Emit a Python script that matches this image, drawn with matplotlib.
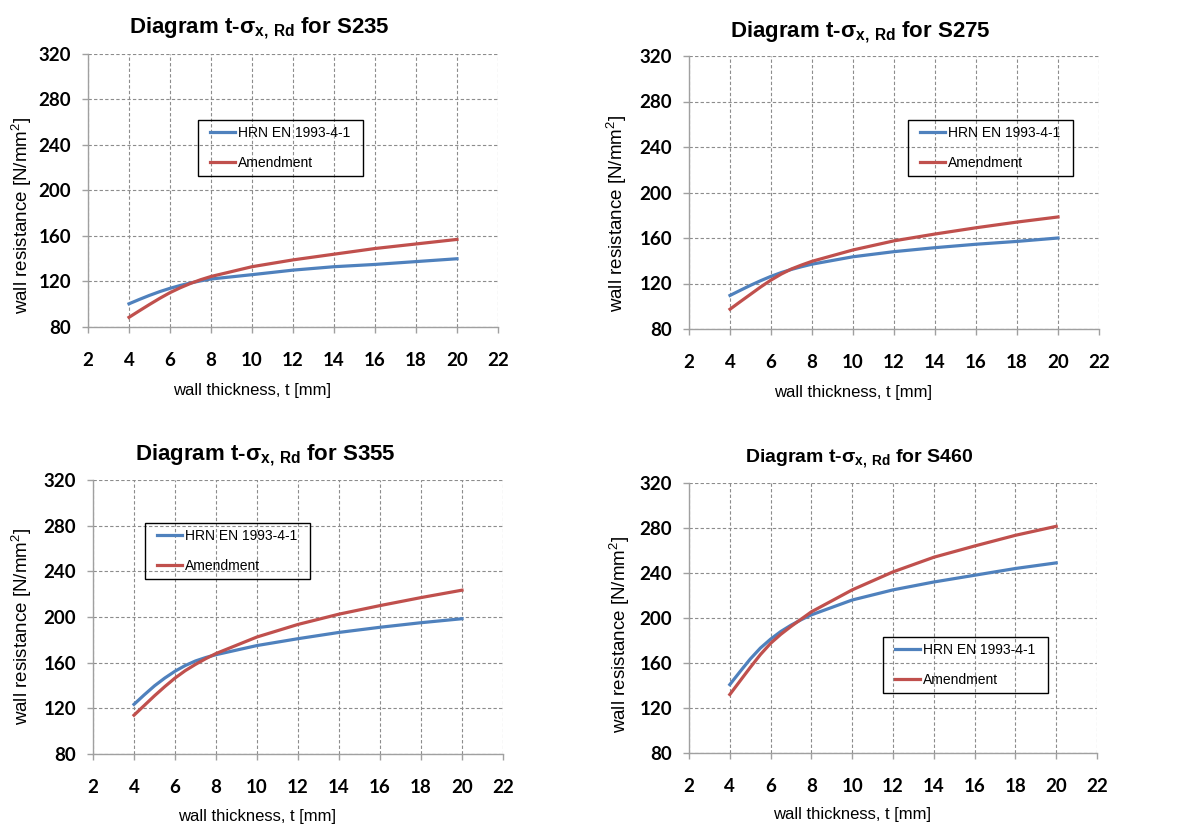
import matplotlib
matplotlib.use("Agg")
import matplotlib.pyplot as plt
from matplotlib.patches import Rectangle

plt.rcParams['mathtext.fontset'] = 'custom'
plt.rcParams['mathtext.rm'] = 'Liberation Sans'
plt.rcParams['mathtext.bf'] = 'Liberation Sans:bold'

# wall thickness t [mm]
thickness = [4, 4.5, 5, 5.5, 6, 6.5, 7, 7.5, 8, 10, 12, 14, 16, 18, 20]

# wall resistance [N/mm2]
s235_hrn = [100.4, 104.2, 107.8, 111.1, 114, 116.5, 118.7, 120.6, 122.2, 126, 130, 133, 135, 137.5, 140]
s235_amd = [88.5, 94.2, 99.8, 105.2, 110.2, 114.5, 118.3, 121.6, 124.4, 133, 139, 144, 149, 153, 157]
s275_hrn = [109.5, 114, 118.4, 122.5, 126.3, 129.6, 132.4, 134.8, 137, 143.5, 148, 151.5, 154.5, 157, 160]
s275_amd = [97.4, 104, 110.5, 117, 123, 128.3, 132.8, 136.3, 139.5, 149.5, 157.5, 163.5, 169, 174, 178.5]
s355_hrn = [123.5, 131.8, 139.7, 146.5, 152.5, 157.5, 161.5, 164.5, 167, 175, 181, 186.5, 191, 195, 198.5]
s355_amd = [114, 122.5, 131, 139, 146.5, 153, 158.5, 163.5, 168, 182.5, 193.5, 202.5, 210, 217, 223.5]
s460_hrn = [140.8, 152.3, 163.5, 173.3, 181.2, 188, 193.6, 198.5, 202.8, 216, 225, 232, 238, 244, 249]
s460_amd = [132, 144, 156, 167.5, 177.5, 185.5, 192.5, 199, 205.5, 225, 241, 254, 264, 273.5, 281.5]

grades = ['S235', 'S275', 'S355', 'S460']
hrn = [s235_hrn, s275_hrn, s355_hrn, s460_hrn]
amd = [s235_amd, s275_amd, s355_amd, s460_amd]

W, H = 1185, 827

def fx(x):
    return x / W

def fy(y):
    return 1 - y / H

# axes boxes in pixels: left, top, right, bottom
boxes = [(88, 54, 498, 327), (689, 56, 1099, 329),
         (93, 480, 503, 754), (689, 483, 1097, 753)]
legend_at = [(198, 120), (908, 120), (145, 523), (883, 637)]
title_at = [(259, 33), (860, 37), (265, 460), (859, 463)]
title_size = [16, 16, 16, 14]
ylab_at = [(22, 215), (617, 213), (22, 626), (620, 634)]
xlab_at = [(252, 390), (853, 393), (257, 816), (852, 815)]
padx = 6

blue = '#4F81BD'
red = '#C0504D'
grid_c = '#8C8C8C'
narrow = ['Liberation Sans Narrow', 'Liberation Sans']

fig = plt.figure(figsize=(W / 100, H / 100), dpi=100)
legends = []

for i, g in enumerate(grades):
    l, t, r, b = boxes[i]
    ax = fig.add_axes([fx(l), fy(b), (r - l) / W, (b - t) / H])
    ax.plot(thickness, hrn[i], color=blue, lw=2.3, label='HRN EN 1993-4-1')
    ax.plot(thickness, amd[i], color=red, lw=2.3, label='Amendment')
    ax.set_xlim(2, 22)
    ax.set_ylim(80, 320)
    ax.set_xticks(range(2, 23, 2))
    ax.set_yticks(range(80, 321, 40))
    ax.grid(True, color=grid_c, linestyle=(0, (3, 2)), lw=0.8)
    for s in ['top', 'right']:
        ax.spines[s].set_visible(False)
    for s in ['left', 'bottom']:
        ax.spines[s].set_color('#A0A0A0')
        ax.spines[s].set_linewidth(1.0)
    ax.tick_params(colors='#A0A0A0', length=4, width=1.0, labelcolor='black')
    for lab in ax.get_xticklabels() + ax.get_yticklabels():
        lab.set_fontfamily('Lato')
        lab.set_fontweight('bold')
        lab.set_fontsize(13.5)
    ax.tick_params(axis='x', pad=14)
    ax.tick_params(axis='y', pad=8)

    lx, ly = legend_at[i]
    leg = ax.legend(loc='upper left',
                    bbox_to_anchor=((lx + padx - l) / (r - l), (b - ly) / (b - t)),
                    prop={'family': narrow, 'size': 10},
                    frameon=False, borderpad=0.45, labelspacing=1.1,
                    handlelength=1.8, handletextpad=0.2, borderaxespad=0)
    legends.append(leg)

    tx, ty = title_at[i]
    fig.text(fx(tx), fy(ty), 'Diagram t-σ$_{\\mathbf{x,\\,Rd}}$ for ' + g,
             ha='center', va='baseline', fontsize=title_size[i],
             fontweight='bold', family='Liberation Sans')
    yx, yy = ylab_at[i]
    fig.text(fx(yx), fy(yy), 'wall resistance [N/mm$^2$]', rotation=90,
             ha='center', va='center', fontsize=13.5, family=narrow)
    xx, xy = xlab_at[i]
    fig.text(fx(xx), fy(xy), 'wall thickness, t [mm]', ha='center',
             va='center', fontsize=12, family=narrow)

# legend frames with wider side padding than top/bottom
fig.canvas.draw()
for leg in legends:
    bb = leg.get_window_extent()
    fig.patches.append(Rectangle((fx(bb.x0 - padx), bb.y0 / H),
                                 (bb.width + 2 * padx) / W, bb.height / H,
                                 transform=fig.transFigure, fill=False,
                                 edgecolor='black', lw=1.0, zorder=5))
    leg.set_zorder(6)

fig.savefig('out.png', dpi=100)
